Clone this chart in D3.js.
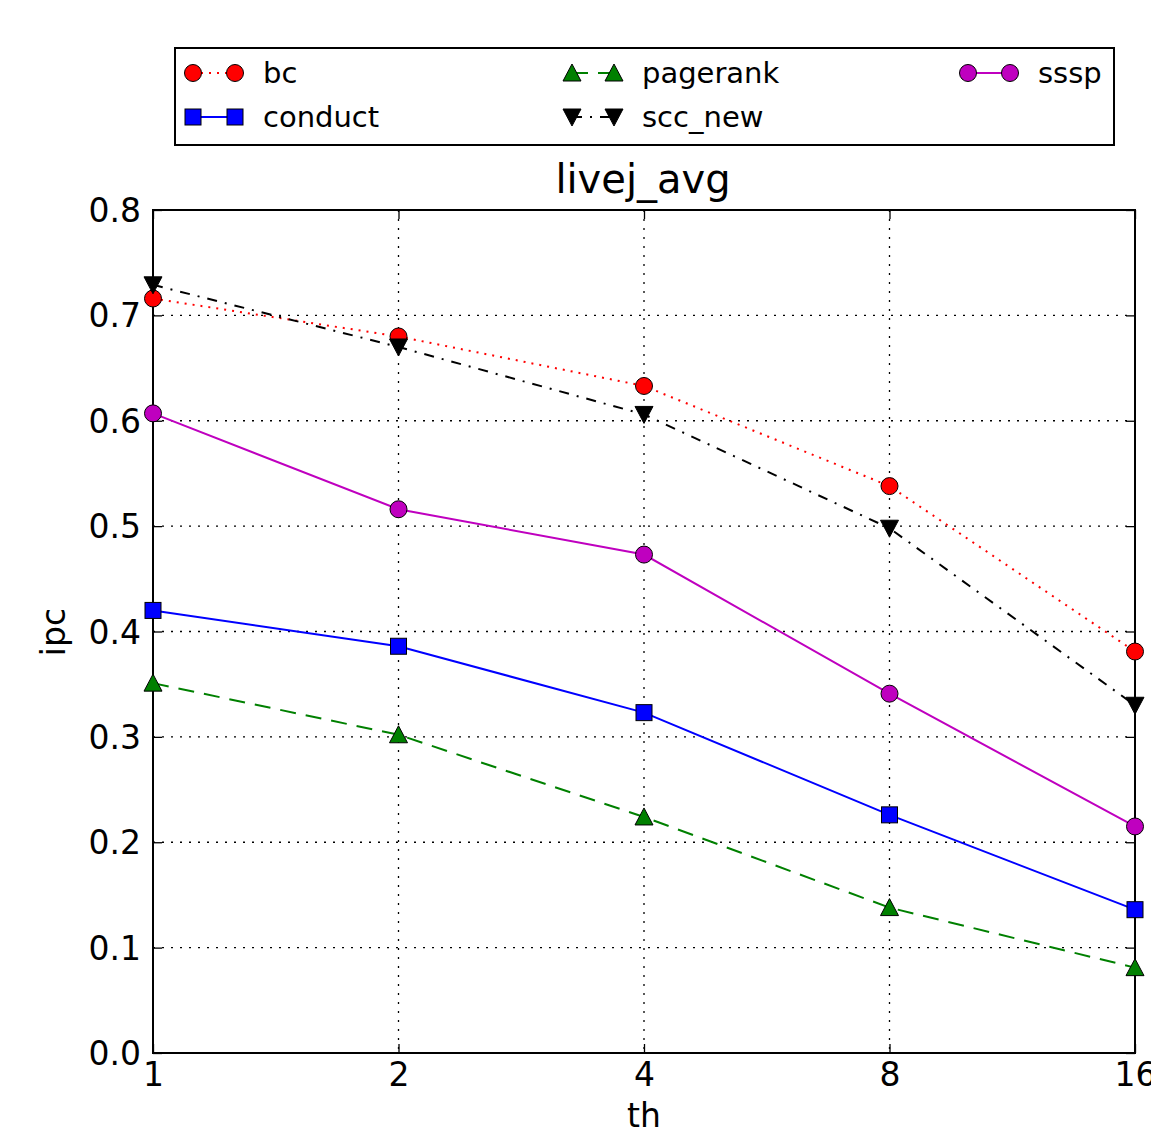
<!DOCTYPE html>
<html>
<head>
<meta charset="utf-8">
<script src="https://d3js.org/d3.v7.min.js"></script>
<style>
  body { margin: 0; background: #fff; }
  text { font-family: "DejaVu Sans", sans-serif; }
</style>
</head>
<body>
<div id="card"></div>
<script>
// threads on the x axis
const threads = [1, 2, 4, 8, 16];
const yTicks = [0.0, 0.1, 0.2, 0.3, 0.4, 0.5, 0.6, 0.7, 0.8];

// ipc values per benchmark
const bc = [0.716, 0.680, 0.633, 0.538, 0.381];
const conduct = [0.420, 0.386, 0.323, 0.226, 0.136];
const pagerank = [0.351, 0.302, 0.224, 0.138, 0.081];
const sccNew = [0.729, 0.670, 0.606, 0.498, 0.330];
const sssp = [0.607, 0.516, 0.473, 0.341, 0.215];

const series = [
  { name: "bc", values: bc, color: "#ff0000", dash: "2,6", marker: "circle" },
  { name: "conduct", values: conduct, color: "#0000ff", dash: null, marker: "square" },
  { name: "pagerank", values: pagerank, color: "#008000", dash: "16,10", marker: "up" },
  { name: "scc_new", values: sccNew, color: "#000000", dash: "10,8,2,8", marker: "down" },
  { name: "sssp", values: sssp, color: "#bf00bf", dash: null, marker: "circle" }
];

const W = 1151, H = 1136;
const margin = { left: 153, top: 210, right: W - 1135, bottom: H - 1053 };
const width = W - margin.left - margin.right;
const height = H - margin.top - margin.bottom;

const svg = d3.select("#card").append("svg")
  .attr("width", W).attr("height", H);

const chart = svg.append("g")
  .attr("transform", "translate(" + margin.left + "," + margin.top + ")");

const x = d3.scaleLog().base(2).domain([1, 16]).range([0, width]);
const y = d3.scaleLinear().domain([0, 0.8]).range([height, 0]);

// gridlines
chart.append("g").selectAll("line")
  .data(threads.slice(1, -1))
  .enter().append("line")
    .attr("x1", d => x(d)).attr("x2", d => x(d))
    .attr("y1", 0).attr("y2", height)
    .attr("stroke", "#000").attr("stroke-width", 1.3).attr("stroke-dasharray", "2,7");

chart.append("g").selectAll("line")
  .data(yTicks.slice(1, -1))
  .enter().append("line")
    .attr("x1", 0).attr("x2", width)
    .attr("y1", d => y(d)).attr("y2", d => y(d))
    .attr("stroke", "#000").attr("stroke-width", 1.3).attr("stroke-dasharray", "2,7");

// axes with inward ticks on all four sides
const xAxis = d3.axisBottom(x).tickValues(threads).tickFormat(d3.format("d")).tickSizeInner(-9).tickSizeOuter(0).tickPadding(10);
const yAxis = d3.axisLeft(y).tickValues(yTicks).tickFormat(d3.format(".1f")).tickSizeInner(-9).tickSizeOuter(0).tickPadding(12);

const gx = chart.append("g").attr("transform", "translate(0," + height + ")").call(xAxis);
const gy = chart.append("g").call(yAxis);
chart.append("g").call(d3.axisTop(x).tickValues(threads).tickFormat("").tickSizeInner(-9).tickSizeOuter(0));
chart.append("g").attr("transform", "translate(" + width + ",0)")
  .call(d3.axisRight(y).tickValues(yTicks).tickFormat("").tickSizeInner(-9).tickSizeOuter(0));

chart.selectAll(".domain").remove();
chart.selectAll(".tick line").attr("stroke", "#000").attr("stroke-width", 1.3);
gx.selectAll("text").style("font-size", "33px").attr("fill", "#000");
gy.selectAll("text").style("font-size", "33px").attr("fill", "#000").attr("dy", "0.35em");

// frame
chart.append("rect")
  .attr("x", 0).attr("y", 0).attr("width", width).attr("height", height)
  .attr("fill", "none").attr("stroke", "#000").attr("stroke-width", 2);

// labels
svg.append("text").attr("x", 643).attr("y", 193).attr("text-anchor", "middle")
  .style("font-size", "40px").text("livej_avg");
svg.append("text").attr("x", 644).attr("y", 1127).attr("text-anchor", "middle")
  .style("font-size", "33px").text("th");
svg.append("text").attr("transform", "translate(65,632) rotate(-90)").attr("text-anchor", "middle")
  .style("font-size", "33px").text("ipc");

function marker(sel, kind, color) {
  if (kind === "circle") {
    sel.append("circle").attr("r", 8.5);
  } else if (kind === "square") {
    sel.append("rect").attr("x", -8).attr("y", -8).attr("width", 16).attr("height", 16);
  } else if (kind === "up") {
    sel.append("path").attr("d", "M0,-9L9,8L-9,8Z");
  } else {
    sel.append("path").attr("d", "M0,9L9,-8L-9,-8Z");
  }
  sel.selectAll("*").attr("fill", color).attr("stroke", "#000").attr("stroke-width", 1);
}

const line = d3.line()
  .x((d, i) => x(threads[i]))
  .y(d => y(d));

const plotArea = chart.append("g");

series.forEach(s => {
  plotArea.append("path")
    .datum(s.values)
    .attr("d", line)
    .attr("fill", "none")
    .attr("stroke", s.color)
    .attr("stroke-width", 2)
    .attr("stroke-dasharray", s.dash);
});

series.forEach(s => {
  plotArea.selectAll(null)
    .data(s.values)
    .enter().append("g")
      .attr("transform", (d, i) => "translate(" + x(threads[i]) + "," + y(d) + ")")
      .each(function () { marker(d3.select(this), s.marker, s.color); });
});

// legend
const legend = svg.append("g");
legend.append("rect")
  .attr("x", 175).attr("y", 48).attr("width", 939).attr("height", 97)
  .attr("fill", "#fff").attr("stroke", "#000").attr("stroke-width", 2);

const legendPos = [
  { col: 0, row: 0 }, { col: 0, row: 1 },
  { col: 1, row: 0 }, { col: 1, row: 1 },
  { col: 2, row: 0 }
];
const colX = [193, 572, 968];
const rowY = [73, 117];

series.forEach((s, i) => {
  const p = legendPos[i];
  const x0 = colX[p.col], yy = rowY[p.row];
  const g = legend.append("g");
  g.append("line")
    .attr("x1", x0).attr("x2", x0 + 42).attr("y1", yy).attr("y2", yy)
    .attr("stroke", s.color).attr("stroke-width", 2)
    .attr("stroke-dasharray", s.dash);
  [x0, x0 + 42].forEach(mx => {
    const m = g.append("g").attr("transform", "translate(" + mx + "," + yy + ")");
    marker(m, s.marker, s.color);
  });
  g.append("text").attr("x", x0 + 70).attr("y", yy).attr("dy", "0.35em")
    .style("font-size", "29px").text(s.name);
});
</script>
</body>
</html>
